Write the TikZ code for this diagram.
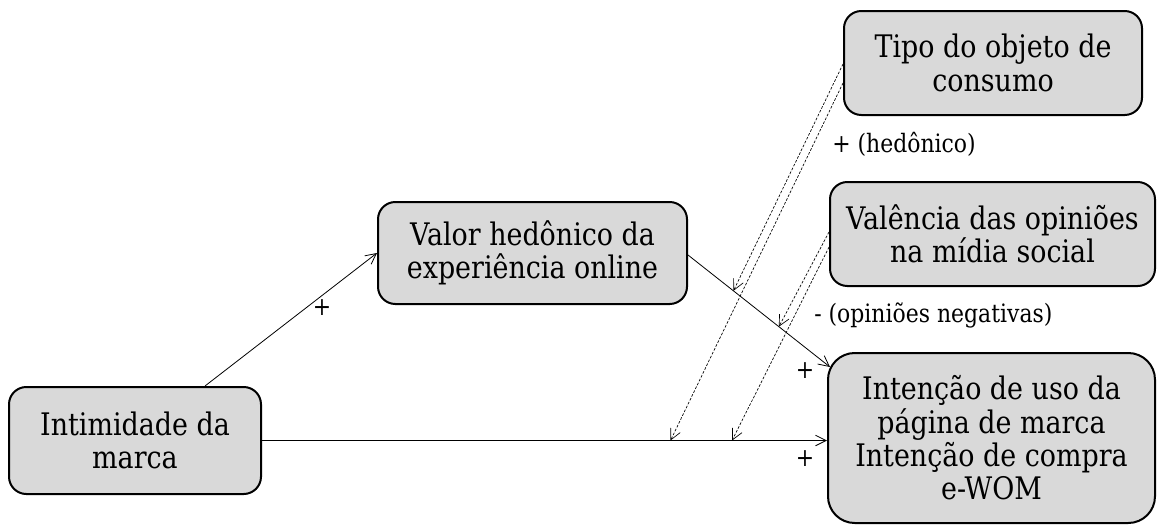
\documentclass[tikz,border=0pt]{standalone}
\usepackage{fontspec}
\setmainfont{DejaVu Serif}[FakeStretch=0.866]
\usetikzlibrary{arrows.meta,calc}
\newcommand\bigtxt{\fontsize{23.3pt}{25pt}\selectfont}
\newcommand\smalltxt{\fontsize{19pt}{22pt}\selectfont}
\begin{document}
\begin{tikzpicture}[x=0.75pt,y=-0.75pt,
  box/.style={draw=black,line width=1.5pt,fill=black!15,rounded corners=13pt,align=center,inner sep=0pt,font=\bigtxt},
  lab/.style={inner sep=0pt,font=\smalltxt},
  link/.style={line width=0.6pt,-{Straight Barb[length=8pt,width=8pt]}},
  mod/.style={line width=0.5pt,dash pattern=on 2pt off 1.2pt,-{Straight Barb[length=8pt,width=8pt]}}]
\useasboundingbox (0,0) rectangle (1157,525);
\node[box,minimum width=223.5pt,minimum height=78pt] (tipo) at (993,63) {Tipo do objeto de\\consumo};
\node[box,minimum width=243.75pt,minimum height=78pt] (val) at (992.5,234) {Valência das opiniões\\na mídia social};
\node[box,minimum width=245.25pt,minimum height=127.5pt,rounded corners=20pt] (int) at (991.5,438) {Intenção de uso da\\página de marca\\Intenção de compra\\e-WOM};
\node[box,minimum width=231.75pt,minimum height=76.5pt] (valor) at (532.5,253) {Valor hedônico da\\experiência online};
\node[box,minimum width=189pt,minimum height=80.25pt] (intim) at (135,440.5) {Intimidade da\\marca};
\node[lab,anchor=base west] (l1) at (832,152) {+ (hedônico)};
\node[lab,anchor=base west] (l2) at (814,322) {- (opiniões negativas)};
\node[lab] (p1) at (322,308) {+};
\node[lab] (p2) at (805,371) {+};
\node[lab] (p3) at (805,459) {+};
\coordinate (vs) at ($(valor.east)+(0,2)$);
\coordinate (vt) at ($(int.north west)+(3,15)$);
\coordinate (ht) at (intim.east -| int.west);
\draw[link] ($(intim.north)+(70,0)$) -- (valor.west);
\draw[link] (vs) -- (vt);
\draw[link] (intim.east) -- (ht);
\coordinate (m1) at ($(vs)!0.32!(vt)$);
\coordinate (m3) at ($(vs)!0.64!(vt)$);
\coordinate (m2) at ($(intim.east)!0.723!(ht)$);
\coordinate (m4) at ($(intim.east)!0.832!(ht)$);
\draw[mod] ($(tipo.west)+(0,1)$) -- (m1);
\draw[mod] ($(tipo.west)+(0,20)$) -- (m2);
\draw[mod] ($(val.west)+(0,-2)$) -- (m3);
\draw[mod] ($(val.west)+(0,13)$) -- (m4);
\end{tikzpicture}
\end{document}
